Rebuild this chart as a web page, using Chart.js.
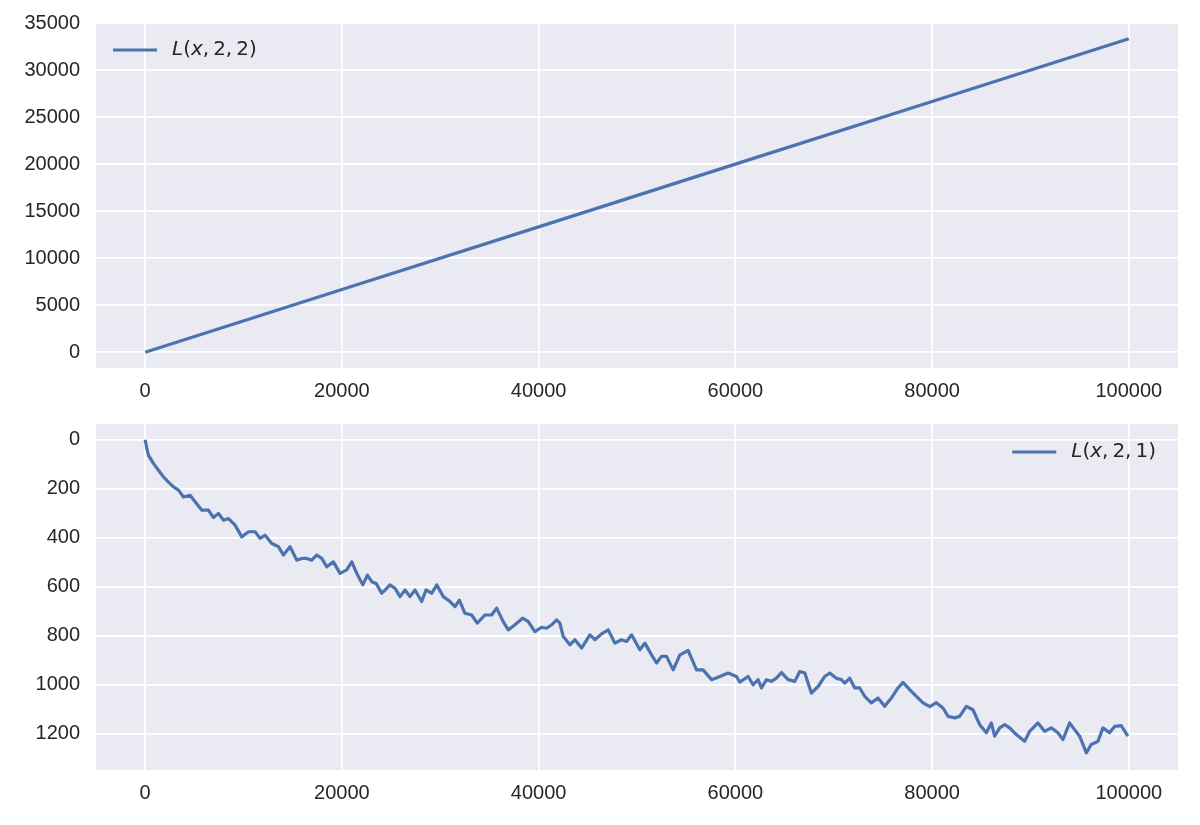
<!DOCTYPE html>
<html>
<head>
<meta charset="utf-8">
<script src="https://cdn.jsdelivr.net/npm/chart.js@4.4.0/dist/chart.umd.min.js"></script>
<style>
  html, body { margin: 0; padding: 0; background: #fff; }
  #wrap { position: relative; width: 1200px; height: 825px; }
  canvas { position: absolute; left: 0; display: block; }
</style>
</head>
<body>
<div id="wrap">
  <canvas id="upper" width="1200" height="412" style="top:0"></canvas>
  <canvas id="lower" width="1200" height="413" style="top:412px"></canvas>
</div>
<script>
// tick labels
var xTicks = [0, 20000, 40000, 60000, 80000, 100000];
var upperTicks = [0, 5000, 10000, 15000, 20000, 25000, 30000, 35000];
var lowerTicks = [0, 200, 400, 600, 800, 1000, 1200];

// L(x, 2, 2)
var upperX = [0, 20000, 40000, 60000, 80000, 100000];
var upperY = [0, 6667, 13333, 20000, 26667, 33333];

// L(x, 2, 1)
var lowerX = [0, 170, 340, 850, 1350, 1860, 2370, 2880, 3390, 3890, 4570, 5080, 5760, 6430, 6940, 7450,
    7960, 8470, 9140, 9820, 10500, 11180, 11680, 12190, 12870, 13550, 14050, 14730, 15410, 15920, 16430,
    16930, 17440, 17950, 18460, 19130, 19810, 20490, 21000, 21510, 22120, 22590, 23030, 23470, 24050,
    24380, 24890, 25400, 25910, 26420, 26920, 27430, 28110, 28550, 29130, 29640, 30310, 30990, 31500,
    31940, 32510, 33190, 33760, 34540, 35220, 35730, 36400, 36910, 37590, 38370, 38950, 39620, 40300,
    40810, 41320, 41830, 42160, 42500, 43180, 43690, 44370, 45210, 45720, 46400, 47080, 47750, 48430,
    48940, 49450, 50290, 50800, 51480, 51990, 52490, 53000, 53680, 54360, 55200, 56050, 56720, 57580,
    58420, 59260, 60110, 60450, 61300, 61800, 62310, 62650, 63160, 63670, 64170, 64690, 65360, 66040,
    66550, 67060, 67730, 68410, 69090, 69600, 70270, 70780, 71120, 71630, 72140, 72640, 73150, 73830,
    74500, 75180, 75860, 76530, 77040, 77720, 78400, 79080, 79760, 80430, 81110, 81620, 82300, 82800,
    83480, 84150, 84840, 85520, 86020, 86360, 86870, 87380, 87880, 88560, 89410, 89920, 90760, 91440,
    92120, 92790, 93300, 93980, 94490, 95000, 95680, 96180, 96860, 97370, 98040, 98550, 99230, 99900];
var lowerY = [0, 37, 64, 98, 125, 152, 173, 193, 206, 234, 227, 254, 288, 288, 318, 301,
    329, 322, 349, 397, 376, 376, 403, 390, 424, 437, 471, 437, 492, 485, 485,
    492, 471, 485, 519, 499, 546, 532, 499, 546, 593, 553, 580, 587, 627,
    614, 593, 607, 641, 614, 641, 614, 661, 614, 627, 593, 641, 661, 682,
    655, 709, 716, 749, 716, 716, 688, 743, 777, 756, 729, 743, 784, 766,
    770, 756, 736, 749, 804, 838, 817, 851, 797, 817, 793, 777, 831, 817,
    824, 797, 858, 831, 879, 912, 885, 885, 940, 879, 861, 940, 940, 980,
    967, 953, 967, 990, 967, 1001, 980, 1014, 980, 987, 974, 951, 980, 987,
    947, 953, 1035, 1008, 967, 953, 974, 980, 994, 974, 1014, 1014, 1048, 1075,
    1055, 1089, 1055, 1014, 991, 1021, 1048, 1075, 1090, 1074, 1096, 1130, 1136, 1130,
    1089, 1103, 1164, 1197, 1157, 1211, 1177, 1164, 1177, 1204, 1232, 1191, 1157, 1191,
    1177, 1197, 1225, 1157, 1184, 1211, 1279, 1245, 1232, 1177, 1197, 1171, 1168, 1211];

var BLUE = '#4C72B0';
var TEXT = '#262626';

Chart.defaults.font.family = "'Liberation Sans', Arial, sans-serif";
Chart.defaults.font.size = 20;
Chart.defaults.color = TEXT;

function points(xs, ys) {
    return xs.map(function(x, i) { return {x: x, y: ys[i]}; });
}

var plotBackground = {
    id: 'plotBackground',
    beforeDraw: function(chart) {
        var a = chart.chartArea, ctx = chart.ctx;
        ctx.save();
        ctx.fillStyle = '#EAEAF2';
        ctx.fillRect(a.left, a.top, a.right - a.left, a.bottom - a.top);
        ctx.restore();
    }
};

// legend with the label set like matplotlib mathtext: letters italic, thin space after commas
var mathLegend = {
    id: 'mathLegend',
    afterDraw: function(chart, args, opts) {
        var ctx = chart.ctx, a = chart.chartArea, ds = chart.data.datasets[0];
        var size = 20;
        var chars = ds.label.replace(/ /g, '').split('');
        var upright = size + "px 'DejaVu Sans'";
        var italic = 'italic ' + size + "px 'DejaVu Sans'";
        ctx.save();
        var width = 0;
        chars.forEach(function(c) {
            ctx.font = /[A-Za-z]/.test(c) ? italic : upright;
            width += ctx.measureText(c).width + (c === ',' ? size * 0.2 : 0);
        });
        var lineX, textX;
        if (opts.align === 'left') {
            lineX = a.left + opts.dx;
            textX = lineX + 44 + 15;
        } else {
            textX = a.right - opts.dx - width;
            lineX = textX - 15 - 44;
        }
        var y = a.top + opts.dy;
        ctx.strokeStyle = ds.borderColor;
        ctx.lineWidth = ds.borderWidth;
        ctx.beginPath();
        ctx.moveTo(lineX, y);
        ctx.lineTo(lineX + 44, y);
        ctx.stroke();
        ctx.fillStyle = TEXT;
        ctx.textBaseline = 'middle';
        var x = textX;
        chars.forEach(function(c) {
            ctx.font = /[A-Za-z]/.test(c) ? italic : upright;
            ctx.fillText(c, x, y);
            x += ctx.measureText(c).width + (c === ',' ? size * 0.2 : 0);
        });
        ctx.restore();
    }
};

function fixedTicks(list) {
    return function(scale) {
        scale.ticks = list.map(function(v) { return {value: v}; });
    };
}

function panel(id, xs, ys, label, yTicks, yMin, yMax, reverse, padTop, xHeight, legend) {
    return new Chart(document.getElementById(id), {
        type: 'line',
        data: {
            datasets: [{
                label: label,
                data: points(xs, ys),
                borderColor: BLUE,
                borderWidth: 3.2,
                borderJoinStyle: 'round',
                pointRadius: 0,
                tension: 0,
                fill: false
            }]
        },
        options: {
            responsive: false,
            animation: false,
            layout: {padding: {top: padTop, right: 22, left: 0, bottom: 0}},
            plugins: {
                legend: {display: false},
                tooltip: {enabled: false},
                mathLegend: legend
            },
            scales: {
                x: {
                    type: 'linear',
                    bounds: 'data',
                    min: -5000,
                    max: 105000,
                    afterBuildTicks: fixedTicks(xTicks),
                    afterFit: function(s) {
                        s.height = xHeight;
                        s.paddingLeft = 0;
                        s.paddingRight = 0;
                    },
                    border: {display: false},
                    grid: {color: '#FFFFFF', lineWidth: 1.8, drawTicks: false},
                    ticks: {
                        padding: 11,
                        autoSkip: false,
                        maxRotation: 0,
                        callback: function(v) { return String(v); }
                    }
                },
                y: {
                    type: 'linear',
                    bounds: 'data',
                    reverse: reverse,
                    min: yMin,
                    max: yMax,
                    afterBuildTicks: fixedTicks(yTicks),
                    afterFit: function(s) {
                        s.width = 96;
                        s.paddingTop = 0;
                        s.paddingBottom = 0;
                    },
                    border: {display: false},
                    grid: {color: '#FFFFFF', lineWidth: 1.8, drawTicks: false},
                    ticks: {
                        padding: 16,
                        autoSkip: false,
                        callback: function(v) { return String(v); }
                    }
                }
            }
        },
        plugins: [plotBackground, mathLegend]
    });
}

panel('upper', upperX, upperY, 'L(x, 2, 2)', upperTicks, -1667, 35000, false, 23, 44,
    {align: 'left', dx: 17, dy: 27});
panel('lower', lowerX, lowerY, 'L(x, 2, 1)', lowerTicks, -64, 1349, true, 12, 55,
    {align: 'right', dx: 22, dy: 28});
</script>
</body>
</html>
